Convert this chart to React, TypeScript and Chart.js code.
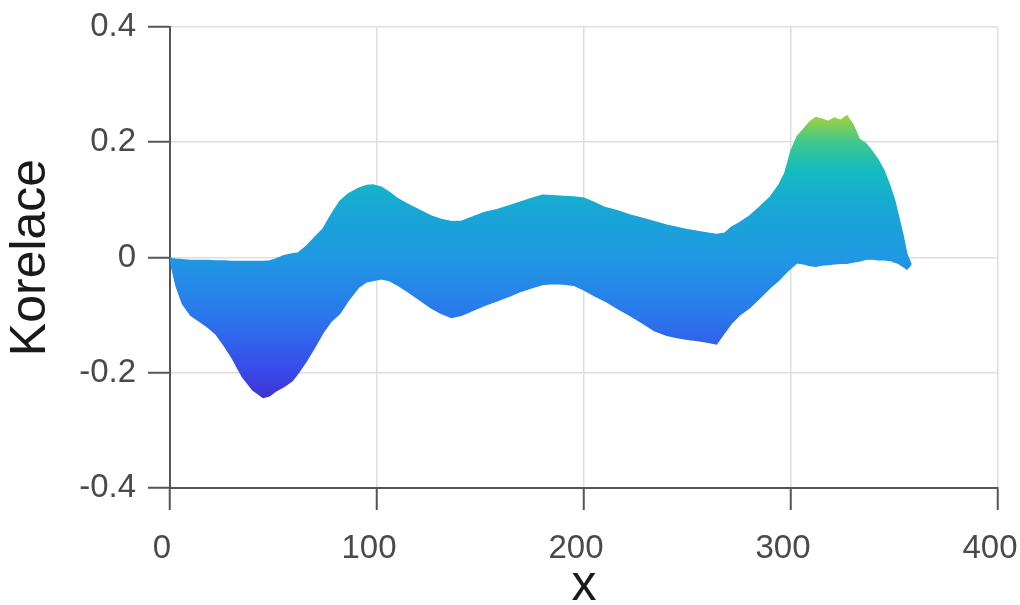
import React, { useEffect, useRef } from "react";
import { Chart, registerables } from "chart.js";

Chart.register(...registerables);

const xValues = [0, 1, 3, 6, 10, 14, 18, 22, 26, 30, 35, 40, 45, 48, 51, 55, 59, 62, 66, 70, 74, 78, 82, 86, 91, 95, 98, 102, 106, 110, 114, 120, 126, 131, 136, 141, 146, 152, 158, 164, 170, 175, 180, 185, 190, 195, 200, 205, 210, 216, 222, 228, 234, 240, 245, 250, 255, 260, 264, 268, 271, 275, 280, 285, 290, 294, 297, 300, 303, 306, 309, 312, 315, 318, 321, 324, 327, 330, 333, 336, 339, 342, 345, 348, 350, 352, 354, 356, 358];

const upperValues = [0, -0.002, -0.003, -0.004, -0.005, -0.005, -0.005, -0.006, -0.006, -0.007, -0.007, -0.007, -0.007, -0.006, -0.003, 0.003, 0.006, 0.008, 0.02, 0.035, 0.05, 0.075, 0.097, 0.11, 0.12, 0.125, 0.126, 0.122, 0.113, 0.102, 0.094, 0.083, 0.072, 0.066, 0.062, 0.063, 0.07, 0.078, 0.083, 0.09, 0.097, 0.103, 0.108, 0.107, 0.106, 0.105, 0.103, 0.095, 0.087, 0.081, 0.074, 0.068, 0.062, 0.056, 0.052, 0.048, 0.045, 0.042, 0.04, 0.042, 0.052, 0.06, 0.072, 0.088, 0.105, 0.125, 0.146, 0.185, 0.21, 0.222, 0.235, 0.243, 0.24, 0.236, 0.242, 0.238, 0.246, 0.23, 0.205, 0.198, 0.185, 0.17, 0.15, 0.122, 0.1, 0.07, 0.04, 0.005, -0.012];

const lowerValues = [0, -0.02, -0.05, -0.08, -0.1, -0.11, -0.12, -0.132, -0.152, -0.174, -0.207, -0.23, -0.243, -0.24, -0.232, -0.224, -0.214, -0.2, -0.179, -0.155, -0.13, -0.11, -0.097, -0.075, -0.052, -0.042, -0.04, -0.037, -0.04, -0.048, -0.057, -0.072, -0.087, -0.097, -0.104, -0.1, -0.092, -0.083, -0.075, -0.067, -0.058, -0.052, -0.047, -0.045, -0.046, -0.048, -0.056, -0.066, -0.075, -0.088, -0.1, -0.113, -0.127, -0.135, -0.139, -0.142, -0.144, -0.147, -0.15, -0.13, -0.115, -0.1, -0.087, -0.07, -0.052, -0.04, -0.028, -0.018, -0.009, -0.011, -0.014, -0.015, -0.013, -0.012, -0.011, -0.01, -0.01, -0.008, -0.006, -0.003, -0.002, -0.004, -0.004, -0.005, -0.008, -0.01, -0.015, -0.02, -0.012];

const xTicks = [0, 100, 200, 300, 400];
const yTicks = [-0.4, -0.2, 0, 0.2, 0.4];

const colorStops: [number, string][] = [
  [-0.25, "rgb(60,48,205)"],
  [-0.2, "rgb(58,72,232)"],
  [-0.1, "rgb(42,120,236)"],
  [0, "rgb(32,152,226)"],
  [0.08, "rgb(24,166,214)"],
  [0.15, "rgb(20,186,192)"],
  [0.2, "rgb(62,200,142)"],
  [0.25, "rgb(170,210,52)"],
];

function makeGradient(context: any) {
  const chart = context.chart;
  const { chartArea, scales } = chart;
  if (!chartArea || !scales.y) return "rgb(32,152,226)";
  const lo = colorStops[0][0];
  const hi = colorStops[colorStops.length - 1][0];
  const yLo = scales.y.getPixelForValue(lo);
  const yHi = scales.y.getPixelForValue(hi);
  const g = chart.ctx.createLinearGradient(0, yLo, 0, yHi);
  for (const [v, c] of colorStops) {
    g.addColorStop((v - lo) / (hi - lo), c);
  }
  return g;
}

export default function App() {
  const canvasRef = useRef<HTMLCanvasElement | null>(null);

  useEffect(() => {
    document.body.style.margin = "0";
    const canvas = canvasRef.current;
    if (!canvas) return;
    const upper = xValues.map((x, i) => ({ x, y: upperValues[i] }));
    const lower = xValues.map((x, i) => ({ x, y: lowerValues[i] }));
    const tickFont = { family: "'Liberation Sans', Arial, sans-serif", size: 33 };
    const titleFont = { family: "'Liberation Sans', Arial, sans-serif", size: 50, lineHeight: 1.0 };

    const chart = new Chart(canvas, {
      type: "line",
      data: {
        datasets: [
          {
            data: upper,
            fill: "+1",
            backgroundColor: makeGradient,
            borderColor: makeGradient,
            borderWidth: 1.5,
            pointRadius: 0,
            tension: 0,
          },
          {
            data: lower,
            fill: false,
            backgroundColor: makeGradient,
            borderColor: makeGradient,
            borderWidth: 1.5,
            pointRadius: 0,
            tension: 0,
          },
        ],
      },
      options: {
        animation: false,
        responsive: false,
        layout: { padding: { top: 27, right: 22, left: 0, bottom: 0 } },
        plugins: { legend: { display: false }, tooltip: { enabled: false } },
        scales: {
          x: {
            type: "linear",
            min: 0,
            max: 400,
            afterBuildTicks: (scale: any) => {
              scale.ticks = xTicks.map((v) => ({ value: v }));
            },
            afterFit: (scale: any) => {
              scale.height = 117;
              scale.paddingLeft = 0;
              scale.paddingRight = 0;
            },
            ticks: {
              font: tickFont,
              color: "#4a4a4a",
              padding: 19,
              labelOffset: -8,
              maxRotation: 0,
              callback: (v: any) => String(v),
            },
            grid: {
              color: "#dedede",
              lineWidth: 1.5,
              tickColor: "#555",
              tickLength: 22,
              tickWidth: 2,
            },
            border: { color: "#555", width: 2 },
            title: {
              display: true,
              text: "x",
              font: titleFont,
              color: "#1a1a1a",
              padding: { top: 0, bottom: -6 },
            },
          },
          y: {
            type: "linear",
            min: -0.4,
            max: 0.4,
            afterBuildTicks: (scale: any) => {
              scale.ticks = yTicks.map((v) => ({ value: v }));
            },
            afterFit: (scale: any) => {
              scale.width = 170;
              scale.paddingTop = 0;
              scale.paddingBottom = 0;
            },
            ticks: {
              font: tickFont,
              color: "#4a4a4a",
              padding: 12,
              callback: (v: any) => (Math.abs(v) < 1e-9 ? "0" : Number(v).toFixed(1)),
            },
            grid: {
              color: "#dedede",
              lineWidth: 1.5,
              tickColor: "#555",
              tickLength: 22,
              tickWidth: 2,
            },
            border: { color: "#555", width: 2 },
            title: {
              display: true,
              text: "Korelace",
              font: titleFont,
              color: "#1a1a1a",
              padding: { top: 6, bottom: 0 },
            },
          },
        },
      },
    } as any);
    return () => chart.destroy();
  }, []);

  return (
    <div style={{ width: 1020, height: 605 }}>
      <canvas ref={canvasRef} width={1020} height={605} style={{ display: "block" }} />
    </div>
  );
}
